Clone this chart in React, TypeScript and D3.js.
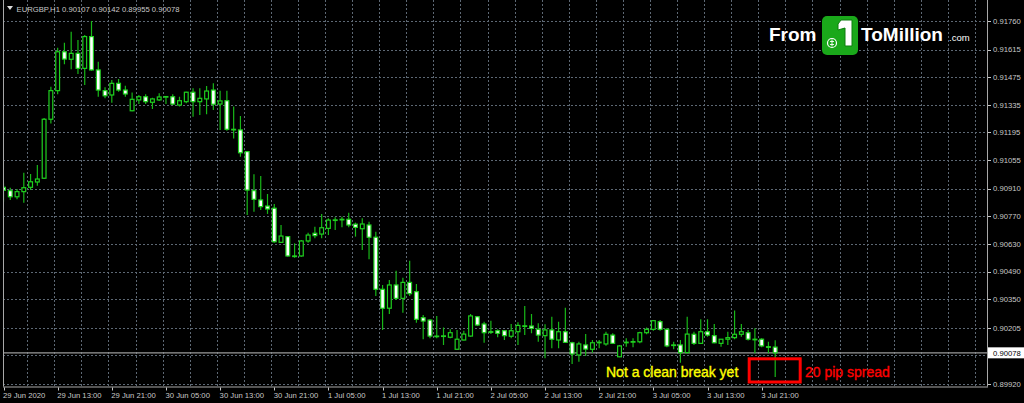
import React from "react";
import * as d3 from "d3";

const W = 1024;
const H = 403;

const symbolName = "EURGBP,H1";
const headerValues = ["0.90107", "0.90142", "0.89955", "0.90078"];
const currentPrice = 0.90078;

const opens = [
  0.90917, 0.909, 0.90869, 0.90895, 0.90917, 0.90944, 0.90963, 0.91262, 0.91407, 0.91604,
  0.91566, 0.91596, 0.9152, 0.91681, 0.91512, 0.91407, 0.91385, 0.91444, 0.9141, 0.91305,
  0.9136, 0.91376, 0.91348, 0.9136, 0.91376, 0.91376, 0.91334, 0.91351, 0.91399, 0.91351,
  0.91365, 0.9141, 0.91339, 0.91356, 0.91211, 0.91208, 0.91098, 0.909, 0.90853, 0.90822,
  0.90811, 0.90638, 0.90667, 0.90569, 0.90569, 0.90645, 0.90684, 0.9068, 0.90709, 0.90751,
  0.90755, 0.90755, 0.9073, 0.90707, 0.90726, 0.90664, 0.904, 0.90304, 0.90422, 0.90354,
  0.90435, 0.90388, 0.90256, 0.90244, 0.90163, 0.90163, 0.90157, 0.90096, 0.90143, 0.90163,
  0.90261, 0.90224, 0.90185, 0.9019, 0.9019, 0.90162, 0.90185, 0.90214, 0.90214, 0.90197,
  0.90165, 0.90194, 0.90143, 0.90185, 0.90129, 0.90067, 0.90118, 0.90096, 0.90131, 0.90123,
  0.90168, 0.90058, 0.90131, 0.90134, 0.90134, 0.9018, 0.90197, 0.90236, 0.90197, 0.90118,
  0.90118, 0.90079, 0.90172, 0.90126, 0.90185, 0.90165, 0.90126, 0.90147, 0.90155, 0.90172,
  0.9018, 0.90147, 0.90147, 0.90109, 0.90107,
];

const highs = [
  0.90936, 0.90915, 0.90908, 0.90991, 0.90985, 0.9103, 0.91268, 0.91427, 0.91624, 0.9165,
  0.91706, 0.91664, 0.91689, 0.9176, 0.91554, 0.91424, 0.91461, 0.91466, 0.91432, 0.91397,
  0.91385, 0.91389, 0.91371, 0.91394, 0.9138, 0.91389, 0.91376, 0.91402, 0.91419, 0.91419,
  0.91431, 0.91444, 0.91407, 0.91407, 0.91326, 0.91278, 0.911, 0.90983, 0.90974, 0.90883,
  0.90832, 0.90726, 0.9067, 0.90633, 0.9065, 0.90687, 0.90717, 0.90782, 0.9076, 0.90765,
  0.90768, 0.90788, 0.90738, 0.9076, 0.90743, 0.90692, 0.90422, 0.90447, 0.90494, 0.90459,
  0.90545, 0.90427, 0.9027, 0.90248, 0.90265, 0.90207, 0.90197, 0.90194, 0.9019, 0.90275,
  0.90265, 0.90236, 0.90241, 0.90197, 0.90194, 0.90224, 0.90233, 0.90315, 0.90275, 0.90228,
  0.90223, 0.90261, 0.90236, 0.90307, 0.90134, 0.90134, 0.90173, 0.90143, 0.90143, 0.90185,
  0.90177, 0.90118, 0.90152, 0.90152, 0.90185, 0.90207, 0.90244, 0.90244, 0.90202, 0.90134,
  0.90143, 0.90261, 0.90185, 0.90248, 0.90248, 0.90224, 0.90147, 0.90185, 0.90292, 0.90224,
  0.90194, 0.90202, 0.90152, 0.90134, 0.90142,
];

const lows = [
  0.90844, 0.90853, 0.90856, 0.90839, 0.90903, 0.90925, 0.90959, 0.91241, 0.91389, 0.91541,
  0.91515, 0.91491, 0.91436, 0.91508, 0.91376, 0.91368, 0.91346, 0.91402, 0.91376, 0.91303,
  0.91339, 0.91339, 0.91314, 0.91355, 0.91339, 0.91334, 0.91326, 0.91343, 0.91275, 0.91284,
  0.91287, 0.91309, 0.91208, 0.91204, 0.91165, 0.91072, 0.90777, 0.90793, 0.90802, 0.90782,
  0.90636, 0.90636, 0.90565, 0.9056, 0.90565, 0.90636, 0.90659, 0.90659, 0.90675, 0.90701,
  0.90714, 0.90714, 0.90667, 0.90599, 0.90552, 0.90366, 0.90194, 0.90275, 0.90346, 0.90281,
  0.90366, 0.90231, 0.90147, 0.90152, 0.90152, 0.90118, 0.90152, 0.90094, 0.90141, 0.9016,
  0.90214, 0.90129, 0.90173, 0.90157, 0.90143, 0.90152, 0.90118, 0.90168, 0.90177, 0.90134,
  0.9005, 0.90101, 0.90101, 0.90129, 0.90021, 0.90033, 0.90062, 0.90079, 0.90101, 0.90114,
  0.90123, 0.90055, 0.90109, 0.90106, 0.90126, 0.90172, 0.9019, 0.9019, 0.90106, 0.90096,
  0.90028, 0.90076, 0.90118, 0.90123, 0.9016, 0.90126, 0.90109, 0.90118, 0.90147, 0.9016,
  0.9014, 0.90076, 0.90106, 0.90076, 0.89955,
];

const closes = [
  0.90902, 0.90869, 0.90895, 0.90915, 0.90945, 0.90959, 0.91262, 0.91407, 0.91604, 0.91567,
  0.91596, 0.9152, 0.91681, 0.91512, 0.9141, 0.91381, 0.91444, 0.9141, 0.9139, 0.91363,
  0.91376, 0.91351, 0.91365, 0.91375, 0.91377, 0.91339, 0.91356, 0.91399, 0.91351, 0.91368,
  0.91405, 0.91338, 0.91355, 0.91211, 0.91209, 0.91092, 0.90903, 0.90856, 0.90819, 0.90807,
  0.90641, 0.9067, 0.90569, 0.90568, 0.90645, 0.90675, 0.90672, 0.90712, 0.90751, 0.90752,
  0.90755, 0.90726, 0.90714, 0.90731, 0.90664, 0.904, 0.90304, 0.90422, 0.90354, 0.90435,
  0.90378, 0.90248, 0.90239, 0.90163, 0.90162, 0.90164, 0.9018, 0.90147, 0.90173, 0.90265,
  0.90219, 0.9018, 0.90184, 0.90177, 0.90165, 0.9019, 0.90217, 0.90215, 0.90202, 0.90168,
  0.90194, 0.90147, 0.90185, 0.90131, 0.90072, 0.90123, 0.90097, 0.90129, 0.90132, 0.90172,
  0.90126, 0.90113, 0.90132, 0.90135, 0.9018, 0.90197, 0.90241, 0.90197, 0.90113, 0.90117,
  0.90079, 0.90173, 0.90126, 0.90185, 0.90168, 0.90129, 0.90147, 0.90155, 0.90172, 0.90185,
  0.90147, 0.90146, 0.90113, 0.90108, 0.90078,
];

// price grid levels; the one at 0.90065 sits under the current-price label
const priceGridLevels = [
  0.9176, 0.91615, 0.91475, 0.91335, 0.91195, 0.91055, 0.9091,
  0.9077, 0.9063, 0.9049, 0.9035, 0.90205, 0.90065, 0.8992,
];
const priceTickLabels = [
  "0.91760", "0.91615", "0.91475", "0.91335", "0.91195", "0.91055", "0.90910",
  "0.90770", "0.90630", "0.90490", "0.90350", "0.90205", "0.89920",
];

const timeTickLabels = [
  "29 Jun 2020", "29 Jun 13:00", "29 Jun 21:00", "30 Jun 05:00", "30 Jun 13:00",
  "30 Jun 21:00", "1 Jul 05:00", "1 Jul 13:00", "1 Jul 21:00", "2 Jul 05:00",
  "2 Jul 13:00", "2 Jul 21:00", "3 Jul 05:00", "3 Jul 13:00", "3 Jul 21:00",
];
const timeTickBars = [0, 8, 16, 24, 32, 40, 48, 56, 64, 72, 80, 88, 96, 104, 112];

const noteLeft = "Not a clean break yet";
const noteRight = "20 pip spread";

const FONT = "'Liberation Sans', Arial, sans-serif";
const AXIS_COLOR = "#c8c8c8";
const GRID_COLOR = "#5d6874";
const CANDLE_COLOR = "#1fd01f";
const WICK_COLOR = "#18b818";

export default function App() {
  const plotLeft = 3;
  const plotRight = 987;
  const plotBottom = 386.5;

  const x = d3.scaleLinear().domain([0, 114]).range([3.5, 775.2]);
  const y = d3.scaleLinear().domain([0.8992, 0.9176]).range([384, 21]);
  const bodyW = 3.8;

  const gridBars = d3.range(3.5, 146, 4);
  const candles = d3.range(opens.length);

  return (
    <svg
      width={W}
      height={H}
      style={{ position: "absolute", left: 0, top: 0, display: "block", background: "#000" }}
    >
      <defs>
        <clipPath id="plotClip">
          <rect x={plotLeft + 0.5} y={0} width={plotRight - plotLeft - 1} height={plotBottom} />
        </clipPath>
      </defs>
      <rect x={0} y={0} width={W} height={H} fill="#000" />

      {/* grid */}
      <g stroke={GRID_COLOR} strokeWidth={1} strokeDasharray="2,2">
        {priceGridLevels.map((v) => (
          <line
            key={"gh" + v}
            x1={plotLeft}
            x2={plotRight}
            y1={Math.round(y(v)) + 0.5}
            y2={Math.round(y(v)) + 0.5}
          />
        ))}
        {gridBars
          .filter((b) => x(b) < plotRight - 2)
          .map((b) => (
            <line
              key={"gv" + b}
              x1={Math.round(x(b)) + 0.5}
              x2={Math.round(x(b)) + 0.5}
              y1={0}
              y2={plotBottom}
            />
          ))}
      </g>

      {/* current price line */}
      <line
        x1={plotLeft}
        x2={plotRight}
        y1={y(currentPrice)}
        y2={y(currentPrice)}
        stroke="#9a9a9a"
        strokeWidth={1.4}
      />

      {/* candles */}
      <g clipPath="url(#plotClip)">
        {candles.map((i) => {
          const cx = x(i);
          const o = opens[i];
          const c = closes[i];
          const top = y(Math.max(o, c));
          const bot = y(Math.min(o, c));
          const bull = c > o;
          return (
            <g key={"c" + i}>
              <line
                x1={cx}
                x2={cx}
                y1={y(highs[i])}
                y2={y(lows[i])}
                stroke={WICK_COLOR}
                strokeWidth={1.2}
              />
              <rect
                x={cx - bodyW / 2}
                y={top}
                width={bodyW}
                height={Math.max(bot - top, 0.6)}
                fill={bull ? "#000" : "#ffffff"}
                stroke={CANDLE_COLOR}
                strokeWidth={1.2}
              />
            </g>
          );
        })}
      </g>

      {/* border */}
      <g stroke="#a8a8a8" strokeWidth={1}>
        <line x1={plotLeft + 0.5} x2={plotLeft + 0.5} y1={0} y2={plotBottom} />
        <line x1={plotRight + 0.5} x2={plotRight + 0.5} y1={0} y2={plotBottom} />
        <line x1={plotLeft} x2={plotRight + 1} y1={plotBottom + 0.5} y2={plotBottom + 0.5} />
      </g>

      {/* price axis */}
      <g fontFamily={FONT} fontSize={7.7} fill={AXIS_COLOR}>
        {priceGridLevels.map((v) => (
          <line
            key={"ytk" + v}
            x1={plotRight + 1}
            x2={plotRight + 4}
            y1={Math.round(y(v)) + 0.5}
            y2={Math.round(y(v)) + 0.5}
            stroke={AXIS_COLOR}
          />
        ))}
        {priceTickLabels.map((t) => (
          <text key={"yt" + t} x={993} y={y(+t)} dy="0.36em">
            {t}
          </text>
        ))}
      </g>

      {/* current price label */}
      <rect x={988} y={y(currentPrice) - 5.5} width={36} height={11} fill="#ffffff" />
      <text
        x={993}
        y={y(currentPrice)}
        dy="0.36em"
        fontFamily={FONT}
        fontSize={7.7}
        fill="#000"
      >
        {currentPrice.toFixed(5)}
      </text>

      {/* time axis */}
      <g fontFamily={FONT} fontSize={7.7} fill={AXIS_COLOR}>
        {timeTickBars.map((b, k) => (
          <g key={"xt" + b}>
            <line
              x1={Math.round(x(b)) + 0.5}
              x2={Math.round(x(b)) + 0.5}
              y1={plotBottom + 1}
              y2={plotBottom + 4}
              stroke={AXIS_COLOR}
            />
            <text x={x(b) - 0.5} y={397.5}>
              {timeTickLabels[k]}
            </text>
          </g>
        ))}
      </g>

      {/* header */}
      <polygon points="7,6 13,6 10,10" fill="#dcdcdc" />
      <text x={16.5} y={11.5} fontFamily={FONT} fontSize={7.7} fill={AXIS_COLOR}>
        {symbolName + "  " + headerValues.join(" ")}
      </text>

      {/* logo */}
      <g fontFamily={FONT} fontWeight="bold" fill="#ffffff">
        <text x={769} y={41} fontSize={19}>
          From
        </text>
        <rect x={822} y={16} width={36} height={39} rx={5} fill="#1aa81a" />
        <path
          d="M841,20 L852,20 L852,46 L845,46 L845,28 L838,30 L838,24 Z"
          fill="#ffffff"
          stroke="#0d7d0d"
          strokeWidth={1}
        />
        <circle cx={832} cy={43} r={4.5} fill="none" stroke="#ffffff" strokeWidth={1.2} />
        <path d="M830,41.5 L834,41.5 M830,44.5 L834,44.5 M832,39.5 L832,46.5" stroke="#ffffff" strokeWidth={0.9} />
        <text x={861} y={41} fontSize={19}>
          ToMillion
        </text>
        <text x={949} y={41} fontSize={9.5} fontWeight="normal">
          .com
        </text>
      </g>

      {/* annotations */}
      <text
        x={606}
        y={377}
        fontFamily={FONT}
        fontSize={14}
        fill="#ffff00"
        stroke="#ffff00"
        strokeWidth={0.35}
      >
        {noteLeft}
      </text>
      <rect x={749.2} y={358.8} width={51} height={23.2} fill="none" stroke="#ff0000" strokeWidth={3} />
      <text
        x={805}
        y={377}
        fontFamily={FONT}
        fontSize={14}
        fill="#ff0000"
        stroke="#ff0000"
        strokeWidth={0.35}
      >
        {noteRight}
      </text>
    </svg>
  );
}
